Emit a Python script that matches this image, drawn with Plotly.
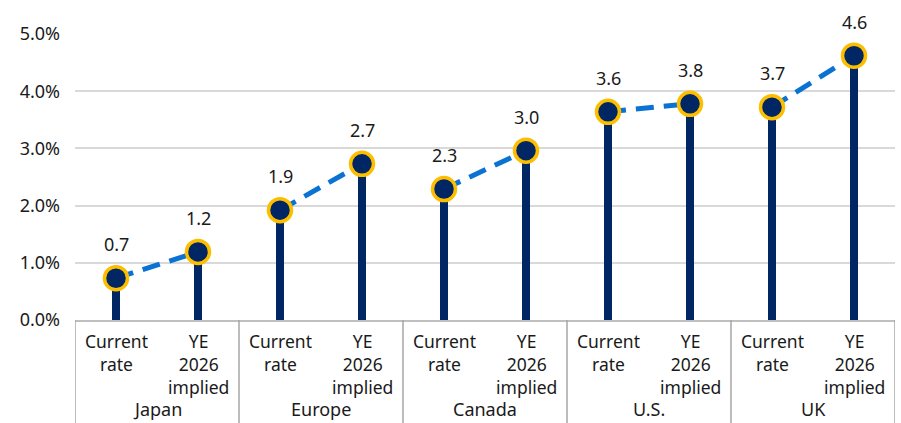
import plotly.graph_objects as go

# ---- data ----
groups = ["Japan", "Europe", "Canada", "U.S.", "UK"]
sub_labels = ["Current<br>rate", "YE<br>2026<br>implied"]
current_rate = [0.73, 1.92, 2.29, 3.64, 3.72]
ye2026_implied = [1.19, 2.73, 2.96, 3.78, 4.62]
y_ticks = [0, 1, 2, 3, 4, 5]
y_tick_text = ["0.0%", "1.0%", "2.0%", "3.0%", "4.0%", "5.0%"]

NAVY = "#002664"
GOLD = "#FDBE00"
BLUE = "#0A72D2"
FONT = "Noto Sans"

# positions along the category axis
xs, vals = [], []
for i in range(len(groups)):
    xs += [2 * i, 2 * i + 1]
    vals += [current_rate[i], ye2026_implied[i]]

line_x, line_y = [], []
for i in range(len(groups)):
    line_x += [2 * i, 2 * i + 1, None]
    line_y += [current_rate[i], ye2026_implied[i], None]

fig = go.Figure()
fig.add_trace(go.Bar(x=xs, y=vals, width=0.1, marker=dict(color=NAVY, line=dict(width=0)),
                     hoverinfo="skip", showlegend=False))
fig.add_trace(go.Scatter(x=line_x, y=line_y, mode="lines",
                         line=dict(color=BLUE, width=5, dash="18px,10px"),
                         hoverinfo="skip", showlegend=False))
fig.add_trace(go.Scatter(x=xs, y=vals, mode="markers",
                         marker=dict(size=23, color=NAVY, line=dict(color=GOLD, width=3.5)),
                         cliponaxis=False, showlegend=False))

annotations = []
# data labels
for x, v in zip(xs, vals):
    annotations.append(dict(x=x, y=v, xref="x", yref="y", text=f"{v:.1f}", showarrow=False,
                            yshift=34, font=dict(family=FONT, size=18, color="#1a1a1a")))
# category labels
for i, g in enumerate(groups):
    for j, lab in enumerate(sub_labels):
        annotations.append(dict(x=2 * i + j, y=0, xref="x", yref="paper", text=lab,
                                showarrow=False, yanchor="top", yshift=-7,
                                font=dict(family=FONT, size=17.5, color="#1a1a1a")))
    annotations.append(dict(x=2 * i + 0.5, y=0, xref="x", yref="paper", text=g,
                            showarrow=False, yanchor="bottom", yshift=-103,
                            font=dict(family=FONT, size=18, color="#1a1a1a")))

shapes = []
for i in range(len(groups) + 1):
    shapes.append(dict(type="line", xref="x", yref="paper", x0=2 * i - 0.5, x1=2 * i - 0.5,
                       y0=0, y1=-0.4, line=dict(color="#a6a6a6", width=1.5)))

fig.update_layout(
    width=901, height=423,
    margin=dict(l=75, r=6, t=34, b=103),
    paper_bgcolor="white", plot_bgcolor="white",
    bargap=0,
    annotations=annotations, shapes=shapes,
    xaxis=dict(range=[-0.5, 9.5], showticklabels=False, showgrid=False, zeroline=False,
               showline=True, linecolor="#bfbfbf", linewidth=1.5, fixedrange=True),
    yaxis=dict(range=[0, 5], tickmode="array", tickvals=y_ticks, ticktext=y_tick_text,
               showgrid=True, gridcolor="#d9d9d9", gridwidth=1.5, zeroline=False,
               ticklabelstandoff=14,
               tickfont=dict(family=FONT, size=18, color="#1a1a1a"), fixedrange=True),
    font=dict(family=FONT),
)

fig.write_html("out.html")
